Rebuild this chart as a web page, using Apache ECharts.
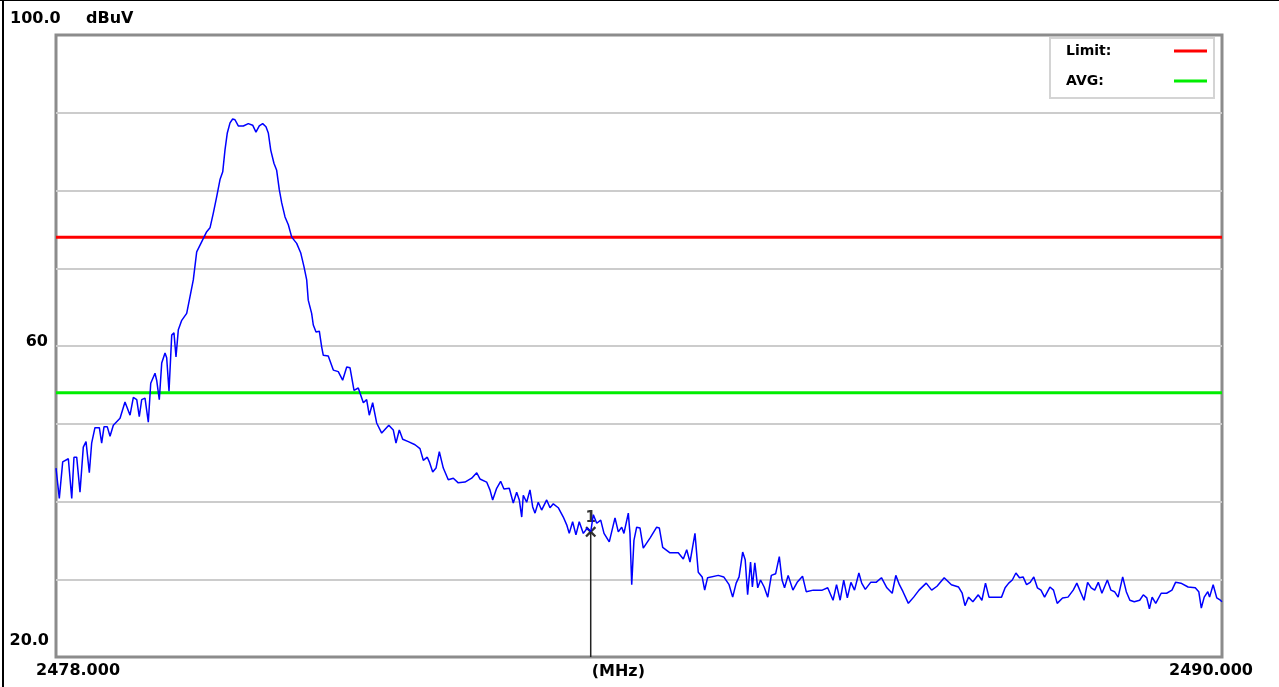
<!DOCTYPE html>
<html>
<head>
<meta charset="utf-8">
<script src="https://cdn.jsdelivr.net/npm/echarts@6/dist/echarts.min.js"></script>
<style>
html, body { margin: 0; padding: 0; background: #fff; }
#main { width: 1279px; height: 687px; }
</style>
</head>
<body>
<div id="main"></div>
<script>
// spectrum trace (MHz / dBuV)
var freq = [
  2478.000, 2478.034, 2478.069, 2478.127, 2478.162, 2478.185, 2478.213, 2478.247, 2478.281, 2478.309,
  2478.343, 2478.367, 2478.401, 2478.446, 2478.470, 2478.494, 2478.528, 2478.556, 2478.590, 2478.659,
  2478.710, 2478.762, 2478.796, 2478.831, 2478.857, 2478.882, 2478.916, 2478.950, 2478.975, 2479.019,
  2479.036, 2479.063, 2479.088, 2479.122, 2479.139, 2479.163, 2479.191, 2479.214, 2479.235, 2479.259,
  2479.294, 2479.345, 2479.372, 2479.413, 2479.448, 2479.499, 2479.551, 2479.585, 2479.619, 2479.654,
  2479.688, 2479.716, 2479.739, 2479.763, 2479.791, 2479.818, 2479.842, 2479.876, 2479.928, 2479.979,
  2480.024, 2480.058, 2480.092, 2480.127, 2480.161, 2480.185, 2480.210, 2480.243, 2480.271, 2480.298,
  2480.323, 2480.357, 2480.391, 2480.426, 2480.477, 2480.518, 2480.552, 2480.580, 2480.596, 2480.631,
  2480.648, 2480.676, 2480.710, 2480.734, 2480.751, 2480.802, 2480.854, 2480.905, 2480.950, 2480.992,
  2481.026, 2481.067, 2481.111, 2481.163, 2481.197, 2481.224, 2481.259, 2481.300, 2481.352, 2481.425,
  2481.471, 2481.499, 2481.533, 2481.568, 2481.626, 2481.695, 2481.746, 2481.780, 2481.821, 2481.842,
  2481.877, 2481.911, 2481.945, 2481.986, 2482.037, 2482.089, 2482.140, 2482.209, 2482.278, 2482.330,
  2482.363, 2482.432, 2482.466, 2482.494, 2482.535, 2482.576, 2482.610, 2482.665, 2482.706, 2482.741,
  2482.768, 2482.793, 2482.809, 2482.844, 2482.878, 2482.906, 2482.930, 2482.963, 2482.998, 2483.050,
  2483.084, 2483.118, 2483.169, 2483.221, 2483.256, 2483.282, 2483.317, 2483.351, 2483.385, 2483.427,
  2483.468, 2483.503, 2483.530, 2483.565, 2483.606, 2483.640, 2483.694, 2483.753, 2483.787, 2483.822,
  2483.845, 2483.890, 2483.907, 2483.925, 2483.948, 2483.976, 2484.010, 2484.044, 2484.113, 2484.182,
  2484.209, 2484.244, 2484.319, 2484.404, 2484.456, 2484.491, 2484.525, 2484.576, 2484.610, 2484.650,
  2484.676, 2484.706, 2484.816, 2484.872, 2484.927, 2484.964, 2485.000, 2485.030, 2485.067, 2485.093,
  2485.118, 2485.148, 2485.167, 2485.192, 2485.222, 2485.251, 2485.288, 2485.325, 2485.362, 2485.406,
  2485.444, 2485.472, 2485.498, 2485.535, 2485.584, 2485.628, 2485.683, 2485.721, 2485.794, 2485.886,
  2485.942, 2485.997, 2486.033, 2486.070, 2486.107, 2486.144, 2486.181, 2486.218, 2486.263, 2486.292,
  2486.329, 2486.384, 2486.440, 2486.495, 2486.551, 2486.606, 2486.643, 2486.680, 2486.717, 2486.772,
  2486.827, 2486.882, 2486.956, 2487.012, 2487.067, 2487.141, 2487.215, 2487.289, 2487.326, 2487.355,
  2487.392, 2487.436, 2487.492, 2487.529, 2487.566, 2487.602, 2487.657, 2487.731, 2487.768, 2487.805,
  2487.842, 2487.879, 2487.916, 2487.953, 2487.989, 2488.026, 2488.063, 2488.100, 2488.137, 2488.174,
  2488.229, 2488.266, 2488.304, 2488.359, 2488.415, 2488.469, 2488.506, 2488.543, 2488.580, 2488.617,
  2488.654, 2488.690, 2488.727, 2488.764, 2488.820, 2488.857, 2488.894, 2488.931, 2488.978, 2489.015,
  2489.052, 2489.097, 2489.153, 2489.190, 2489.226, 2489.253, 2489.281, 2489.318, 2489.374, 2489.430,
  2489.485, 2489.522, 2489.577, 2489.651, 2489.725, 2489.761, 2489.787, 2489.817, 2489.854, 2489.872,
  2489.909, 2489.946, 2489.983, 2490.000
];
var level = [
  44.3, 40.4, 45.1, 45.5, 40.4, 45.7, 45.7, 41.2, 47.0, 47.7,
  43.7, 47.5, 49.5, 49.5, 47.5, 49.6, 49.6, 48.4, 49.8, 50.7,
  52.8, 51.1, 53.4, 53.1, 50.9, 53.1, 53.3, 50.2, 55.2, 56.5,
  55.6, 53.1, 57.8, 59.1, 58.5, 54.2, 61.4, 61.7, 58.6, 62.1,
  63.3, 64.2, 65.9, 68.5, 72.1, 73.4, 74.7, 75.2, 77.1, 79.2,
  81.4, 82.4, 85.2, 87.4, 88.7, 89.2, 89.1, 88.3, 88.3, 88.6,
  88.4, 87.5, 88.3, 88.6, 88.2, 87.4, 85.2, 83.5, 82.6, 80.1,
  78.4, 76.6, 75.6, 74.0, 73.2, 72.0, 70.2, 68.5, 65.9, 64.2,
  62.7, 61.8, 61.9, 59.9, 58.8, 58.7, 56.9, 56.7, 55.6, 57.3,
  57.2, 54.3, 54.6, 52.7, 53.1, 51.1, 52.7, 50.1, 48.8, 49.8,
  49.2, 47.5, 49.2, 48.0, 47.7, 47.3, 46.8, 45.3, 45.7, 45.1,
  43.8, 44.3, 46.4, 44.3, 42.8, 43.0, 42.4, 42.5, 43.0, 43.7,
  42.9, 42.5, 41.5, 40.2, 41.7, 42.6, 41.6, 41.7, 39.8, 41.2,
  40.2, 38.0, 40.8, 39.9, 41.5, 39.3, 38.5, 39.9, 38.9, 40.2,
  39.2, 39.7, 39.2, 38.0, 37.0, 35.9, 37.4, 35.7, 37.4, 35.9,
  36.6, 36.1, 38.3, 37.2, 37.6, 35.9, 34.8, 37.9, 36.1, 36.7,
  35.9, 38.5, 35.9, 29.3, 35.0, 36.7, 36.6, 34.0, 35.3, 36.7,
  36.6, 34.1, 33.4, 33.4, 32.6, 33.8, 32.2, 35.9, 30.9, 30.3,
  28.6, 30.2, 30.5, 30.3, 29.3, 27.7, 29.5, 30.3, 33.5, 32.5,
  28.0, 32.2, 29.0, 32.1, 28.9, 29.9, 29.0, 27.7, 30.5, 30.7,
  32.9, 29.9, 28.9, 30.5, 28.6, 29.6, 30.4, 28.4, 28.6, 28.6,
  28.9, 27.3, 29.3, 27.3, 29.9, 27.6, 29.6, 28.6, 30.8, 29.5,
  28.7, 29.6, 29.6, 30.2, 28.9, 28.2, 30.5, 29.3, 28.4, 26.9,
  27.7, 28.6, 29.5, 28.6, 29.1, 30.2, 29.3, 29.0, 28.2, 26.6,
  27.7, 27.1, 28.0, 27.3, 29.5, 27.7, 27.7, 27.7, 28.9, 29.5,
  29.9, 30.8, 30.2, 30.3, 29.3, 29.6, 30.3, 28.9, 28.6, 27.7,
  29.0, 28.6, 26.9, 27.6, 27.7, 28.6, 29.5, 28.4, 27.3, 29.6,
  28.9, 28.6, 29.6, 28.2, 29.9, 28.6, 28.4, 27.7, 30.3, 28.4,
  27.3, 27.1, 27.3, 28.0, 27.6, 26.2, 27.7, 26.9, 28.2, 28.2,
  28.6, 29.6, 29.5, 29.0, 28.9, 28.4, 26.3, 27.7, 28.4, 27.7,
  29.3, 27.6, 27.3, 27.1
];

var limitLevel = 74;
var avgLevel = 54;
var markerFreq = 2483.503;
var markerLevel = 36.1;

var freqStart = 2478;
var freqStop = 2490;
var levelMin = 20;
var levelMax = 100;
var yTickLabels = ['100.0', '60', '20.0'];
var xTickLabels = ['2478.000', '(MHz)', '2490.000'];
var yUnit = 'dBuV';

var trace = freq.map(function (f, i) { return [f, level[i]]; });

var txtFont = 'bold 16px "DejaVu Sans"';
function label(text, x, y, align) {
  return {
    type: 'text',
    silent: true,
    style: { text: text, x: x, y: y, font: txtFont, fill: '#000', align: align, verticalAlign: 'middle' }
  };
}

var chart = echarts.init(document.getElementById('main'));
chart.setOption({
  animation: false,
  backgroundColor: '#fff',
  grid: {
    left: 56, right: 57, top: 35, bottom: 30,
    show: true, backgroundColor: '#fff',
    borderColor: '#8c8c8c', borderWidth: 3
  },
  legend: {
    data: ['Limit:', 'AVG:'],
    orient: 'vertical',
    right: 65, top: 38,
    align: 'right',
    icon: 'rect',
    itemWidth: 33, itemHeight: 3,
    itemGap: 16,
    padding: [6, 7, 10, 16],
    backgroundColor: '#fff',
    borderColor: '#d4d4d4', borderWidth: 2,
    selectedMode: false,
    formatter: '{n|{name}}',
    textStyle: {
      color: '#000', padding: [0, 53, 0, 0],
      rich: {
        n: {
          width: 50, align: 'left', lineHeight: 16,
          fontFamily: 'DejaVu Sans', fontWeight: 'bold', fontSize: 14, color: '#000'
        }
      }
    }
  },
  xAxis: {
    type: 'value', min: freqStart, max: freqStop,
    axisLine: { show: false }, axisTick: { show: false },
    axisLabel: { show: false }, splitLine: { show: false }
  },
  yAxis: {
    type: 'value', min: levelMin, max: levelMax, interval: 10,
    axisLine: { show: false }, axisTick: { show: false },
    axisLabel: { show: false },
    splitLine: {
      show: true, showMinLine: false, showMaxLine: false,
      lineStyle: { color: '#cccccc', width: 2 }
    }
  },
  series: [
    {
      name: 'Limit:', type: 'line', color: '#ff0000',
      data: [[freqStart, limitLevel], [freqStop, limitLevel]],
      showSymbol: false, silent: true,
      lineStyle: { color: '#ff0000', width: 3 }
    },
    {
      name: 'AVG:', type: 'line', color: '#00ee00',
      data: [[freqStart, avgLevel], [freqStop, avgLevel]],
      showSymbol: false, silent: true,
      lineStyle: { color: '#00ee00', width: 3 }
    },
    {
      name: 'trace', type: 'line',
      data: trace,
      showSymbol: false, silent: true,
      lineStyle: { color: '#0000ff', width: 1.5 }
    },
    {
      name: 'marker', type: 'line',
      data: [[markerFreq, markerLevel], [markerFreq, levelMin]],
      showSymbol: false, silent: true,
      lineStyle: { color: '#222', width: 1.5 }
    },
    {
      name: 'marker1', type: 'scatter',
      data: [[markerFreq, markerLevel]],
      symbol: 'path://M0 1.5L1.5 0L5 3.5L8.5 0L10 1.5L6.5 5L10 8.5L8.5 10L5 6.5L1.5 10L0 8.5L3.5 5Z',
      symbolSize: 11, silent: true,
      itemStyle: { color: '#000' },
      label: {
        show: true, position: 'top', distance: 1,
        formatter: '1', color: '#000',
        fontFamily: 'DejaVu Sans', fontWeight: 'bold', fontSize: 15
      }
    }
  ]
});

// axis texts placed around the frame like the analyser print-out
var pTop = chart.convertToPixel({ gridIndex: 0 }, [freqStart, levelMax]);
var pMid = chart.convertToPixel({ gridIndex: 0 }, [markerFreq, 60]);
var pBot = chart.convertToPixel({ gridIndex: 0 }, [freqStop, levelMin]);

chart.setOption({
  graphic: [
    { type: 'rect', silent: true, shape: { x: 0, y: 0, width: 1279, height: 1 }, style: { fill: '#000' } },
    { type: 'rect', silent: true, shape: { x: 2, y: 0, width: 2, height: 687 }, style: { fill: '#000' } },
    label(yTickLabels[0], 10, pTop[1] - 16, 'left'),
    label(yUnit, 86, pTop[1] - 16, 'left'),
    label(yTickLabels[1], 48, pMid[1] - 4, 'right'),
    label(yTickLabels[2], 49, pBot[1] - 16, 'right'),
    label(xTickLabels[0], 36, pBot[1] + 14, 'left'),
    label(xTickLabels[1], pMid[0] + 1, pBot[1] + 15, 'left'),
    label(xTickLabels[2], 1253, pBot[1] + 14, 'right')
  ]
});
</script>
</body>
</html>
